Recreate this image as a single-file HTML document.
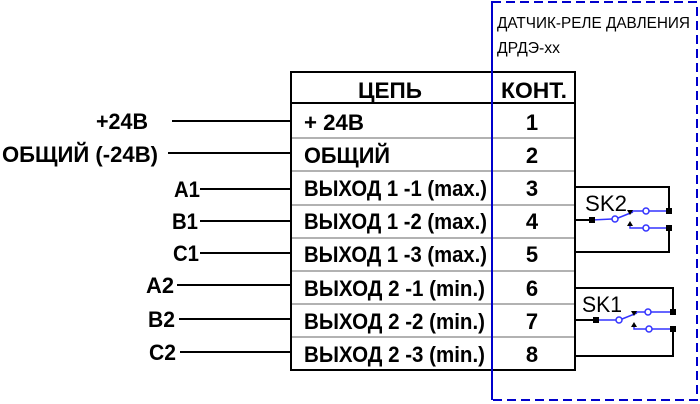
<!DOCTYPE html>
<html><head><meta charset="utf-8"><style>
html,body{margin:0;padding:0;background:#fff;}
svg{display:block;font-family:"Liberation Sans",Arial,sans-serif;}
.b{font-weight:bold;font-size:22px;fill:#000;}
</style></head><body>
<svg width="700" height="404" viewBox="0 0 700 404" xmlns="http://www.w3.org/2000/svg">
<g stroke="#999" stroke-width="1.5">
<line x1="291" y1="138" x2="575" y2="138"/><line x1="291" y1="171" x2="575" y2="171"/>
<line x1="291" y1="205" x2="575" y2="205"/><line x1="291" y1="238" x2="575" y2="238"/>
<line x1="291" y1="271" x2="575" y2="271"/><line x1="291" y1="304" x2="575" y2="304"/>
<line x1="291" y1="337" x2="575" y2="337"/>
</g>
<g stroke="#000" stroke-width="2" fill="none">
<rect x="291" y="72" width="284" height="298"/>
<line x1="291" y1="103" x2="575" y2="103"/>
<line x1="172" y1="121" x2="291" y2="121"/>
<line x1="168" y1="153" x2="291" y2="153"/>
<line x1="200" y1="189" x2="291" y2="189"/>
<line x1="200" y1="221" x2="291" y2="221"/>
<line x1="200" y1="253" x2="291" y2="253"/>
<line x1="177" y1="285" x2="291" y2="285"/>
<line x1="179" y1="319" x2="291" y2="319"/>
<line x1="180" y1="352" x2="291" y2="352"/>
<polyline points="575,187 669,187 669,211"/>
<polyline points="575,252 669,252 669,228"/>
<line x1="575" y1="220" x2="592" y2="220"/>
<polyline points="575,288 673,288 673,312"/>
<polyline points="575,356 673,356 673,329"/>
<line x1="575" y1="320" x2="596" y2="320"/>
</g>
<line x1="492" y1="2" x2="492" y2="400" stroke="#00c" stroke-width="2" stroke-dasharray="9,5"/>
<rect x="492" y="2" width="205" height="398" fill="none" stroke="#00c" stroke-width="2" stroke-dasharray="9,5"/>
<g stroke="#33f" stroke-width="1.5" fill="#fff">
<line x1="592" y1="220" x2="612" y2="219"/><line x1="618" y1="218" x2="633" y2="212"/>
<polyline points="630,213 630,211 643,211" fill="none"/><line x1="649" y1="211" x2="669" y2="211"/>
<polyline points="630,225 630,228 643,228" fill="none"/><line x1="649" y1="228" x2="669" y2="228"/>
<circle cx="615" cy="219" r="3"/><circle cx="646" cy="211" r="3"/><circle cx="646" cy="228" r="3"/>
<line x1="596" y1="320" x2="616" y2="320"/><line x1="622" y1="319" x2="637" y2="313"/>
<polyline points="634,314 634,312 645,312" fill="none"/><line x1="651" y1="312" x2="673" y2="312"/>
<polyline points="634,326 634,329 646,329" fill="none"/><line x1="652" y1="329" x2="673" y2="329"/>
<circle cx="619" cy="320" r="3"/><circle cx="648" cy="312" r="3"/><circle cx="649" cy="329" r="3"/>
</g>
<g fill="#000">
<rect x="589" y="217" width="6" height="6"/><rect x="666" y="208" width="6" height="6"/><rect x="666" y="225" width="6" height="6"/>
<rect x="593" y="317" width="6" height="6"/><rect x="670" y="309" width="6" height="6"/><rect x="670" y="326" width="6" height="6"/>
<polygon points="627,210 633,210 630,215"/><polygon points="627,226 633,226 630,221"/>
<polygon points="631,311 637,311 634,316"/><polygon points="631,327 637,327 634,322"/>
</g>
<text x="585" y="211" font-size="22" fill="#000" textLength="42" lengthAdjust="spacingAndGlyphs">SK2</text>
<text x="582" y="312" font-size="22" fill="#000" textLength="40" lengthAdjust="spacingAndGlyphs">SK1</text>
<text x="497" y="28" font-size="16" fill="#000" textLength="193" lengthAdjust="spacingAndGlyphs">ДАТЧИК-РЕЛЕ ДАВЛЕНИЯ</text>
<text x="497" y="53" font-size="16" fill="#000" textLength="63" lengthAdjust="spacingAndGlyphs">ДРДЭ-хх</text>
<g class="b">
<text x="358" y="98" textLength="64" lengthAdjust="spacingAndGlyphs">ЦЕПЬ</text>
<text x="501" y="98" textLength="66" lengthAdjust="spacingAndGlyphs">КОНТ.</text>
<text x="304" y="130" textLength="60" lengthAdjust="spacingAndGlyphs">+ 24В</text>
<text x="304" y="163" textLength="86" lengthAdjust="spacingAndGlyphs">ОБЩИЙ</text>
<text x="304" y="196" textLength="183" lengthAdjust="spacingAndGlyphs">ВЫХОД 1 -1 (max.)</text>
<text x="304" y="229" textLength="183" lengthAdjust="spacingAndGlyphs">ВЫХОД 1 -2 (max.)</text>
<text x="304" y="262" textLength="183" lengthAdjust="spacingAndGlyphs">ВЫХОД 1 -3 (max.)</text>
<text x="304" y="296" textLength="181" lengthAdjust="spacingAndGlyphs">ВЫХОД 2 -1  (min.)</text>
<text x="304" y="329" textLength="181" lengthAdjust="spacingAndGlyphs">ВЫХОД 2 -2  (min.)</text>
<text x="304" y="362" textLength="181" lengthAdjust="spacingAndGlyphs">ВЫХОД 2 -3  (min.)</text>
<g text-anchor="middle">
<text x="532" y="130">1</text><text x="532" y="163">2</text><text x="532" y="196">3</text><text x="532" y="229">4</text>
<text x="532" y="262">5</text><text x="532" y="296">6</text><text x="532" y="329">7</text><text x="532" y="362">8</text>
</g>
<text x="96" y="129" textLength="52" lengthAdjust="spacingAndGlyphs">+24В</text>
<text x="2" y="162" textLength="156" lengthAdjust="spacingAndGlyphs">ОБЩИЙ (-24В)</text>
<text x="174" y="197" textLength="26" lengthAdjust="spacingAndGlyphs">А1</text>
<text x="172" y="229" textLength="26" lengthAdjust="spacingAndGlyphs">В1</text>
<text x="173" y="261" textLength="26" lengthAdjust="spacingAndGlyphs">С1</text>
<text x="146" y="293" textLength="28" lengthAdjust="spacingAndGlyphs">А2</text>
<text x="148" y="327" textLength="27" lengthAdjust="spacingAndGlyphs">В2</text>
<text x="149" y="360" textLength="27" lengthAdjust="spacingAndGlyphs">С2</text>
</g>
</svg>
</body></html>
